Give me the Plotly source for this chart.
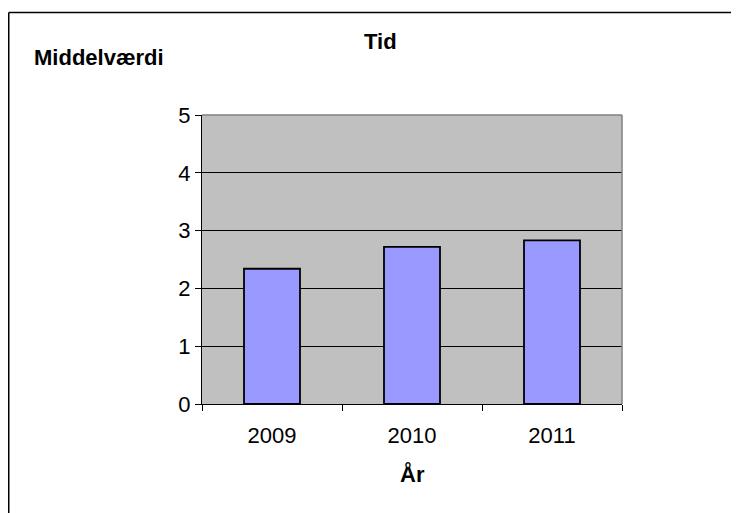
import plotly.graph_objects as go

years = ["2009", "2010", "2011"]
values = [2.34, 2.72, 2.83]
y_ticks = [0, 1, 2, 3, 4, 5]
title_text = "Tid"
y_title = "Middelværdi"
x_title = "År"

# the page adds an 8px body margin, so figure pixels = window pixels - 8
W, H = 739, 513
L, R, T, B = 194, 614, 107, 396  # plot area pixels (figure coords)


def px(x):
    return (x - L) / (R - L)


def py(y):
    return (B - y) / (B - T)


FONT = "Liberation Sans, Arial, sans-serif"

fig = go.Figure()
fig.add_trace(go.Bar(
    x=years, y=values,
    width=0.4,
    marker=dict(color="#9999FF", line=dict(color="#000000", width=1.8)),
    showlegend=False,
))

fig.update_layout(
    width=W, height=H,
    margin=dict(l=L, r=W - R, t=T, b=H - B, pad=0),
    paper_bgcolor="#FFFFFF",
    plot_bgcolor="#C0C0C0",
    font=dict(family=FONT, size=22, color="#000000"),
    xaxis=dict(
        type="category",
        showgrid=False,
        showline=True, linecolor="#000000", linewidth=1,
        ticks="outside", tickson="boundaries", ticklen=6, tickcolor="#000000", tickwidth=1,
        tickfont=dict(size=22),
        ticklabelstandoff=12,
        zeroline=False,
    ),
    yaxis=dict(
        range=[0, 5],
        tickvals=y_ticks,
        showgrid=True, gridcolor="#000000", gridwidth=1,
        showline=True, linecolor="#000000", linewidth=1,
        ticks="outside", ticklen=6, tickcolor="#000000", tickwidth=1,
        tickfont=dict(size=22),
        zeroline=False,
    ),
    shapes=[
        # plot area border (top and right) in grey
        dict(type="line", xref="paper", yref="paper", x0=0, x1=1, y0=1, y1=1,
             line=dict(color="#808080", width=1.5), layer="above"),
        dict(type="line", xref="paper", yref="paper", x0=1, x1=1, y0=0, y1=1,
             line=dict(color="#808080", width=1.5), layer="above"),
        # chart area border (top and left visible)
        dict(type="line", xref="paper", yref="paper", x0=px(0.75), x1=px(760), y0=py(4.5), y1=py(4.5),
             line=dict(color="#000000", width=1.5)),
        dict(type="line", xref="paper", yref="paper", x0=px(0.75), x1=px(0.75), y0=py(4.5), y1=py(530),
             line=dict(color="#000000", width=1.5)),
    ],
    annotations=[
        dict(text="<b>%s</b>" % title_text, xref="paper", yref="paper", x=px(372), y=py(33.5),
             xanchor="center", yanchor="middle", showarrow=False, font=dict(size=22)),
        dict(text="<b>%s</b>" % y_title, xref="paper", yref="paper", x=px(24), y=py(49.5),
             xanchor="left", yanchor="middle", showarrow=False, font=dict(size=22)),
        dict(text="<b>%s</b>" % x_title, xref="paper", yref="paper", x=px(404), y=py(466),
             xanchor="center", yanchor="middle", showarrow=False, font=dict(size=22)),
    ],
)

fig.write_html("out.html")
